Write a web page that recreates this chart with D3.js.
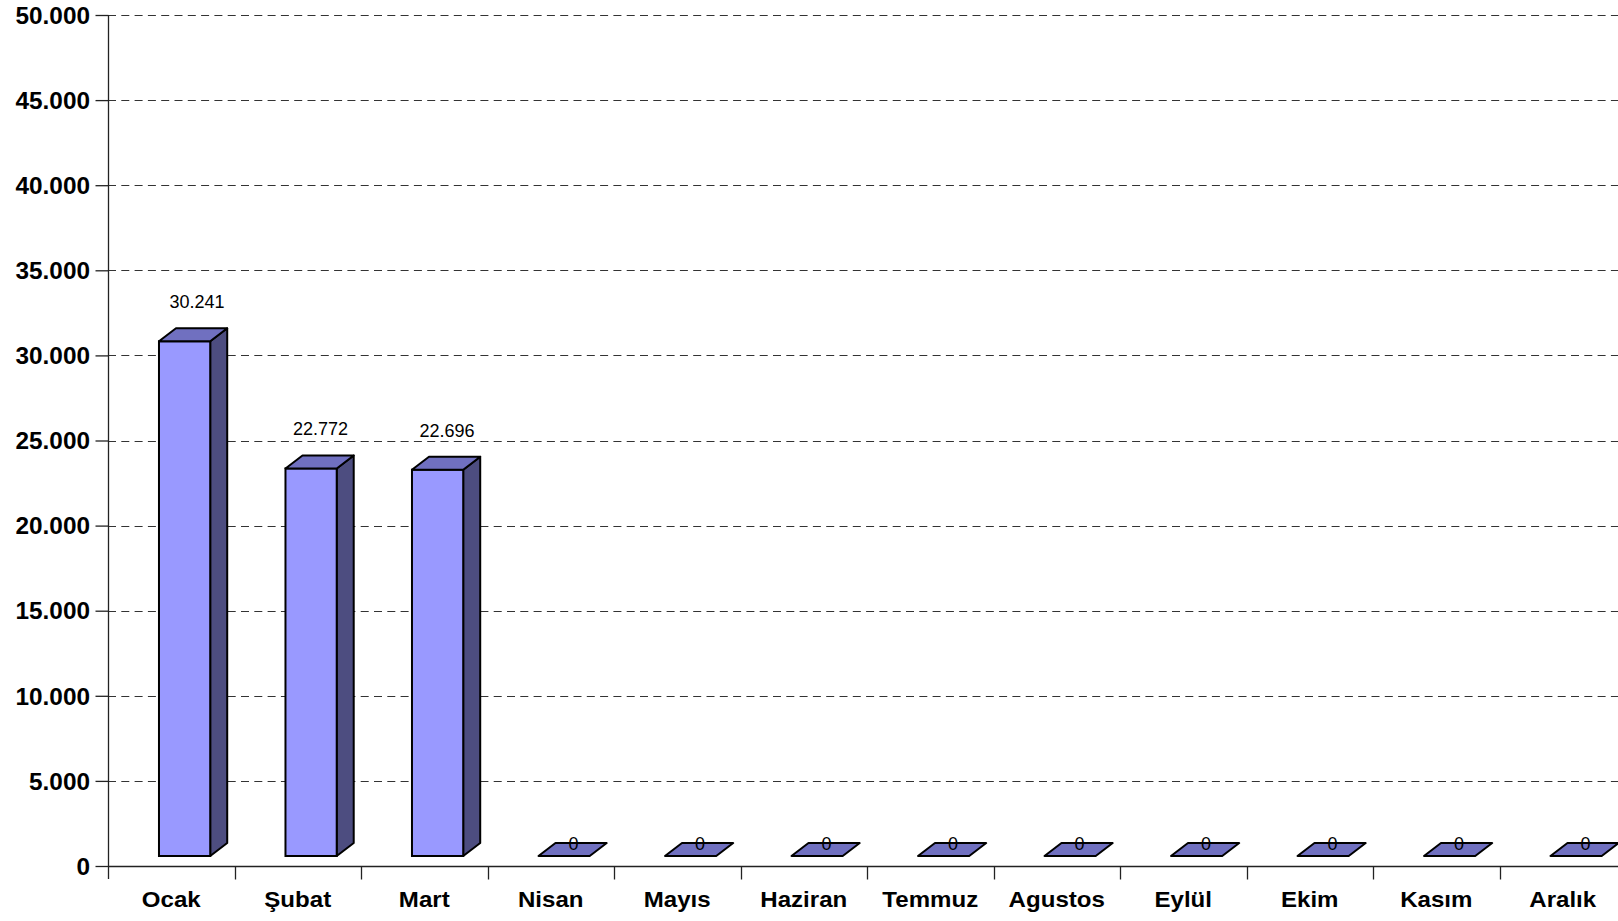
<!DOCTYPE html>
<html>
<head>
<meta charset="utf-8">
<script src="https://cdn.jsdelivr.net/npm/d3@7"></script>
<style>
  html, body { margin: 0; padding: 0; background: #fff; overflow: hidden; }
  svg { display: block; font-family: "Liberation Sans", Arial, sans-serif; }
</style>
</head>
<body>
<svg id="chart" width="1618" height="921"></svg>
<script>
// Monthly totals
const months = ["Ocak", "Şubat", "Mart", "Nisan", "Mayıs", "Haziran", "Temmuz", "Agustos", "Eylül", "Ekim", "Kasım", "Aralık"];
const values = [30241, 22772, 22696, 0, 0, 0, 0, 0, 0, 0, 0, 0];
const yTicks = [0, 5000, 10000, 15000, 20000, 25000, 30000, 35000, 40000, 45000, 50000];

const fmt = v => d3.format(",")(v).replace(/,/g, ".");

const svg = d3.select("#chart");
const left = 108, zeroY = 866, topY = 15, band = 126.5;

const x = d3.scaleBand().domain(months).range([left, left + band * months.length]).padding(0);
const y = d3.scaleLinear().domain([0, 50000]).range([zeroY, topY]);

// 3D box geometry
const depthX = 17, depthY = 13, lift = 10;
const frontOff = x.bandwidth() * 0.403, frontW = x.bandwidth() * 0.405;

// dashed horizontal gridlines
svg.append("g").selectAll("line").data(yTicks.filter(d => d > 0)).join("line")
  .attr("x1", left).attr("x2", 1618)
  .attr("y1", d => Math.round(y(d)) + 0.5).attr("y2", d => Math.round(y(d)) + 0.5)
  .attr("stroke", "#333").attr("stroke-width", 1.2)
  .attr("stroke-dasharray", "8,5.3");

// y axis
const yAxis = svg.append("g").attr("transform", `translate(${left + 0.5},0)`)
  .call(d3.axisLeft(y).tickValues(yTicks).tickSize(13).tickPadding(0).tickFormat(fmt));
yAxis.select(".domain").remove();
yAxis.append("line").attr("x1", 0).attr("x2", 0).attr("y1", topY).attr("y2", zeroY + 13)
  .attr("stroke", "#222").attr("stroke-width", 1.3);
yAxis.selectAll(".tick line").attr("stroke", "#222").attr("stroke-width", 1.3);
const ys = 1.06;
yAxis.selectAll(".tick text")
  .attr("x", -18.5 / ys).attr("dy", "0.36em")
  .attr("transform", `scale(${ys},1)`)
  .attr("fill", "#000").attr("font-size", 23).attr("font-weight", "bold")
  .attr("font-family", "'Liberation Sans', Arial, sans-serif");

// x axis
const xAxis = svg.append("g").attr("transform", `translate(0,${zeroY + 0.5})`)
  .call(d3.axisBottom(x).tickSize(0).tickPadding(0));
xAxis.select(".domain").remove();
xAxis.append("line").attr("x1", left).attr("x2", 1618).attr("y1", 0).attr("y2", 0)
  .attr("stroke", "#222").attr("stroke-width", 1.3);
xAxis.selectAll(".sep").data(months.slice(1)).join("line").attr("class", "sep")
  .attr("x1", d => Math.round(x(d)) + 0.5).attr("x2", d => Math.round(x(d)) + 0.5)
  .attr("y1", 0).attr("y2", 13).attr("stroke", "#222").attr("stroke-width", 1.3);
const xs = 1.12;
xAxis.selectAll(".tick text")
  .attr("y", 41).attr("dy", 0).attr("x", 0)
  .attr("fill", "#000").attr("font-size", 21.5).attr("font-weight", "bold")
  .attr("font-family", "'Liberation Sans', Arial, sans-serif");
xAxis.selectAll(".tick").attr("transform", d => `translate(${x(d) + x.bandwidth() / 2},0) scale(${xs},1)`);

// bars
const data = months.map((m, i) => ({ m, v: values[i] }));
const bars = svg.append("g").selectAll("g").data(data).join("g");
bars.each(function(d) {
  const g = d3.select(this);
  const x0 = x(d.m) + frontOff, x1 = x0 + frontW;
  const yb = y(0) - lift, yt = y(d.v) - lift;
  if (d.v > 0) {
    g.append("path")
      .attr("d", `M${x1},${yb}L${x1 + depthX},${yb - depthY}L${x1 + depthX},${yt - depthY}L${x1},${yt}Z`)
      .attr("fill", "#4d4d80").attr("stroke", "#000").attr("stroke-width", 2).attr("stroke-linejoin", "round");
    g.append("rect").attr("x", x0).attr("y", yt).attr("width", frontW).attr("height", yb - yt)
      .attr("fill", "#9999ff").attr("stroke", "#000").attr("stroke-width", 2);
  }
  g.append("path")
    .attr("d", `M${x0},${yt}L${x1},${yt}L${x1 + depthX},${yt - depthY}L${x0 + depthX},${yt - depthY}Z`)
    .attr("fill", "#7070c0").attr("stroke", "#000").attr("stroke-width", 2).attr("stroke-linejoin", "round");
  const ly = d.v > 0 ? yt - depthY - 20 : yt - depthY + 6.5;
  g.append("text")
    .attr("x", x0 + frontW / 2 + depthX / 2 + (d.v > 25000 ? 4 : 1)).attr("y", ly)
    .attr("text-anchor", "middle").attr("font-size", 18).attr("fill", "#000")
    .text(fmt(d.v));
});
</script>
</body>
</html>
